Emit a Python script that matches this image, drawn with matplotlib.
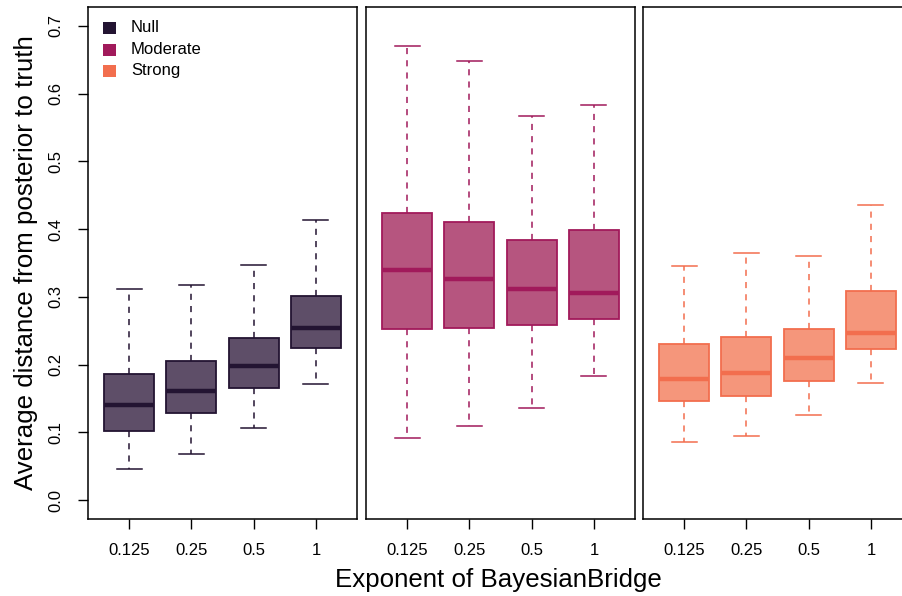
import matplotlib
matplotlib.use("Agg")
import matplotlib.pyplot as plt

plt.rcParams['font.family'] = ['Liberation Sans', 'DejaVu Sans']

exponents = ["0.125", "0.25", "0.5", "1"]
scenarios = ["Null", "Moderate", "Strong"]

# five-number summaries per scenario, one entry per exponent
null_lo  = [0.046, 0.068, 0.107, 0.171]
null_q1  = [0.102, 0.129, 0.165, 0.225]
null_med = [0.140, 0.161, 0.198, 0.254]
null_q3  = [0.186, 0.206, 0.239, 0.302]
null_hi  = [0.311, 0.317, 0.347, 0.414]

mod_lo  = [0.091, 0.109, 0.136, 0.183]
mod_q1  = [0.252, 0.254, 0.258, 0.268]
mod_med = [0.340, 0.326, 0.311, 0.306]
mod_q3  = [0.424, 0.411, 0.384, 0.398]
mod_hi  = [0.670, 0.648, 0.567, 0.584]

str_lo  = [0.086, 0.095, 0.126, 0.173]
str_q1  = [0.146, 0.153, 0.176, 0.223]
str_med = [0.179, 0.187, 0.209, 0.247]
str_q3  = [0.230, 0.240, 0.252, 0.308]
str_hi  = [0.346, 0.365, 0.360, 0.435]

summaries = [
    (null_lo, null_q1, null_med, null_q3, null_hi),
    (mod_lo, mod_q1, mod_med, mod_q3, mod_hi),
    (str_lo, str_q1, str_med, str_q3, str_hi),
]

line_cols = ["#231432", "#a11a5b", "#f26e4e"]
fill_cols = ["#5e4e68", "#b6557f", "#f5967b"]

W, H = 903, 596
fig = plt.figure(figsize=(W / 100, H / 100), dpi=100)

pan_left = [88, 366, 643]
pan_w = 269
pan_bottom = 77
pan_h = 512

axes = []
for k in range(3):
    ax = fig.add_axes([pan_left[k] / W, pan_bottom / H, pan_w / W, pan_h / H])
    axes.append(ax)
    lo, q1, med, q3, hi = summaries[k]
    stats = []
    for i in range(len(exponents)):
        stats.append(dict(whislo=lo[i], q1=q1[i], med=med[i], q3=q3[i],
                          whishi=hi[i], fliers=[], label=exponents[i]))
    lc, fc = line_cols[k], fill_cols[k]
    ax.bxp(stats, positions=range(1, 5), widths=0.8, patch_artist=True,
           showfliers=False,
           boxprops=dict(facecolor=fc, edgecolor=lc, linewidth=1.3),
           medianprops=dict(color=lc, linewidth=3.2, solid_capstyle='butt'),
           whiskerprops=dict(color=lc, linewidth=1.1, linestyle=(0, (4, 4))),
           capprops=dict(color=lc, linewidth=1.1),
           capwidths=0.4)
    ax.set_xlim(0.34, 4.66)
    ax.set_ylim(-0.028, 0.728)
    ax.set_xticks(range(1, 5))
    ax.set_xticklabels(exponents)
    ax.tick_params(axis='x', length=7.5, width=1.0, pad=10, labelsize=12)
    for s in ax.spines.values():
        s.set_linewidth(1.1)
    if k == 0:
        ax.set_yticks([0.0, 0.1, 0.2, 0.3, 0.4, 0.5, 0.6, 0.7])
        ax.set_yticklabels(["0.0", "0.1", "0.2", "0.3", "0.4", "0.5", "0.6", "0.7"],
                           rotation=90, va='center')
        ax.tick_params(axis='y', length=7.5, width=1.0, pad=10, labelsize=12)
    else:
        ax.set_yticks([])

# scenario legend in the first panel
leg_y = [28, 50, 71]
for name, col, yp in zip(scenarios, line_cols, leg_y):
    yf = (pan_bottom + pan_h - (yp - 7)) / H
    fig.patches.append(plt.Rectangle((103 / W, yf - 6 / H), 13 / W, 12 / H,
                                     transform=fig.transFigure, facecolor=col,
                                     edgecolor='none'))
    fig.text(131 / W, yf, name, fontsize=12, va='center', ha='left')

fig.text(26 / W, (pan_bottom + pan_h / 2) / H,
         "Average distance from posterior to truth",
         rotation=90, fontsize=18.6, va='center', ha='center')
fig.text(498 / W, 16 / H, "Exponent of BayesianBridge",
         fontsize=18.6, va='center', ha='center')

fig.savefig("out.png", dpi=100)
